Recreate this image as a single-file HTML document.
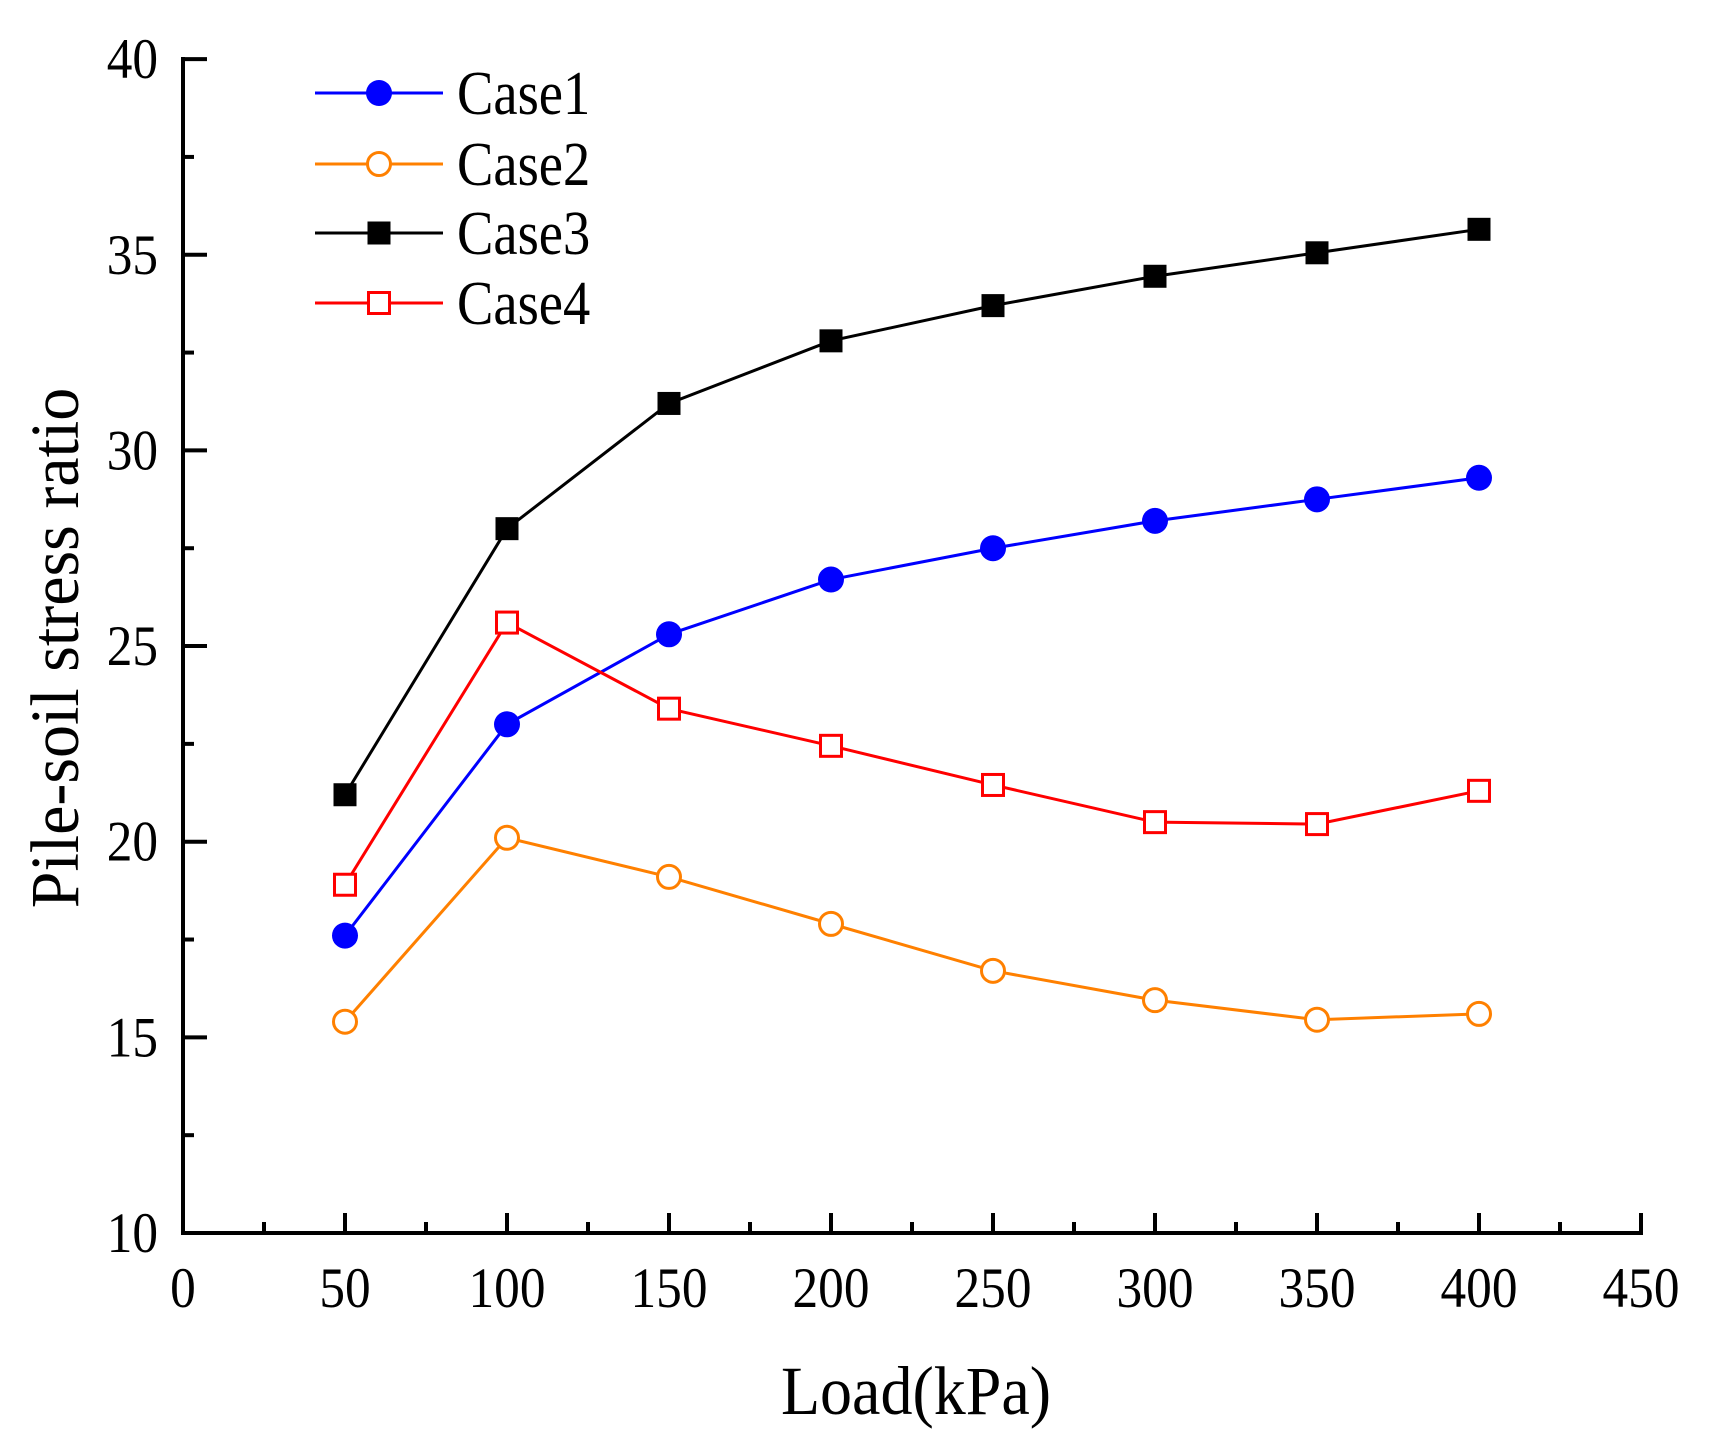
<!DOCTYPE html>
<html><head><meta charset="utf-8"><style>
html,body{margin:0;padding:0;background:#fff;}
svg{display:block;font-family:"Liberation Serif",serif;}
</style></head><body>
<svg id="s" width="1712" height="1430" viewBox="0 0 1712 1430" xmlns="http://www.w3.org/2000/svg">
</svg>
<script>
const s=document.getElementById('s');
const X=v=>183+v*3.24, Y=v=>1233-(v-10)*39.13;
let h='';
function T(x,y,txt,fs,anchor,sx){return `<text transform="translate(${x},${y}) scale(${sx},1)" font-size="${fs}" text-anchor="${anchor}">${txt}</text>`;}
h+=`<line x1="183" y1="57" x2="183" y2="1235" stroke="#000" stroke-width="4"/>`;
h+=`<line x1="181" y1="1233" x2="1643" y2="1233" stroke="#000" stroke-width="4"/>`;
for(let v=0;v<=450;v+=25){const x=X(v);const L=v%50==0?20:11;
 if(v>0) h+=`<line x1="${x}" y1="1233" x2="${x}" y2="${1233-L}" stroke="#000" stroke-width="4"/>`;
 if(v%50==0) h+=T(x,1307,v,57,'middle',0.9);}
for(let v=10;v<=40;v+=2.5){const y=Y(v);const L=v%5==0?24:11;
 if(v>10) h+=`<line x1="183" y1="${y}" x2="${183+L}" y2="${y}" stroke="#000" stroke-width="4"/>`;
 if(v%5==0) h+=T(158,y+19,v,57,'end',0.9);}
h+=`<text transform="translate(916,1414) scale(1,1.08)" font-size="64" text-anchor="middle">Load(kPa)</text>`;
h+=`<text transform="translate(78,648) rotate(-90) scale(1,1.05)" font-size="66" text-anchor="middle">Pile-soil stress ratio</text>`;
const xs=[50,100,150,200,250,300,350,400];
const S=[
 {c:'#0000ff',m:'fc',d:[17.6,23,25.3,26.7,27.5,28.2,28.75,29.3]},
 {c:'#ff8000',m:'oc',d:[15.4,20.1,19.1,17.9,16.7,15.95,15.45,15.6]},
 {c:'#000000',m:'fs',d:[21.2,28,31.2,32.8,33.7,34.45,35.05,35.65]},
 {c:'#ff0000',m:'os',d:[18.9,25.6,23.4,22.45,21.45,20.5,20.45,21.3]}];
function mk(m,c,x,y){
 if(m=='fc')return `<circle cx="${x}" cy="${y}" r="13" fill="${c}"/>`;
 if(m=='oc')return `<circle cx="${x}" cy="${y}" r="11.5" fill="#fff" stroke="${c}" stroke-width="3"/>`;
 if(m=='fs')return `<rect x="${x-11.5}" y="${y-11.5}" width="23" height="23" fill="${c}"/>`;
 return `<rect x="${x-10.5}" y="${y-10.5}" width="21" height="21" fill="#fff" stroke="${c}" stroke-width="3"/>`;}
S.forEach(o=>{h+=`<polyline fill="none" stroke="${o.c}" stroke-width="3" points="${xs.map((v,i)=>X(v)+','+Y(o.d[i])).join(' ')}"/>`;});
S.forEach(o=>{xs.forEach((v,i)=>h+=mk(o.m,o.c,X(v),Y(o.d[i])));});
const ly=[93,164,233,303];
S.forEach((o,i)=>{h+=`<line x1="315" y1="${ly[i]}" x2="443" y2="${ly[i]}" stroke="${o.c}" stroke-width="3"/>`+mk(o.m,o.c,379,ly[i])+
 T(457,ly[i]+21,'Case'+(i+1),62,'start',0.88);});
s.innerHTML=h;
</script>
</body></html>
